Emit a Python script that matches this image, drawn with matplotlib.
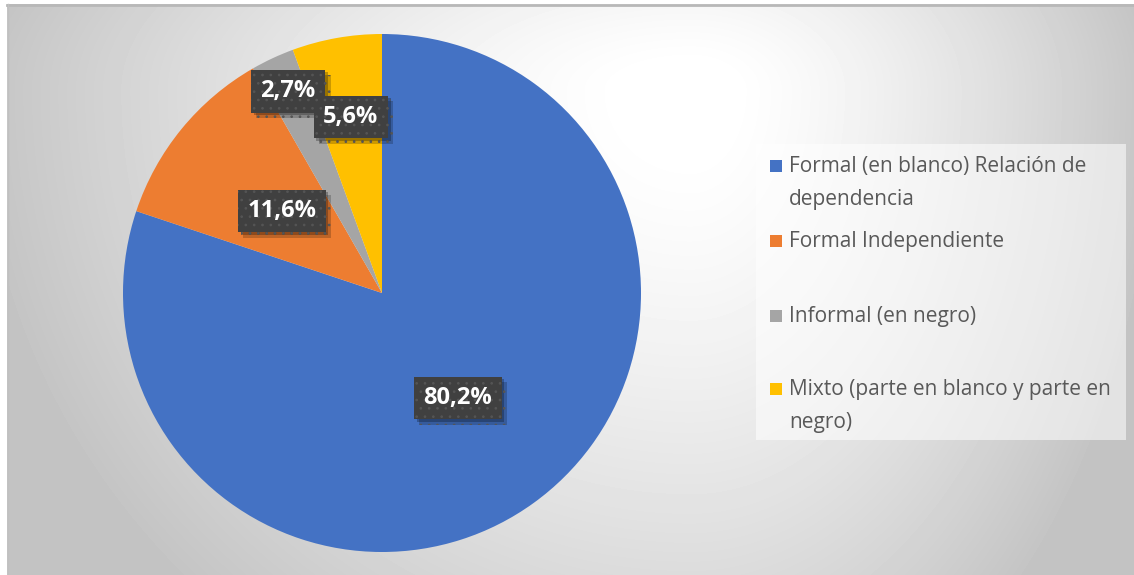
import matplotlib.pyplot as plt
import matplotlib.patheffects as pe
from matplotlib.patches import Rectangle
import numpy as np

# datos
categorias = ['Formal (en blanco) Relación de\ndependencia',
              'Formal Independiente',
              'Informal (en negro)',
              'Mixto (parte en blanco y parte en\nnegro)']
porcentajes = [80.2, 11.6, 2.7, 5.6]
etiquetas = ['80,2%', '11,6%', '2,7%', '5,6%']
colores = ['#4472C4', '#ED7D31', '#A5A5A5', '#FFC000']

W, H = 1134, 575
fig = plt.figure(figsize=(W / 100, H / 100), dpi=100)
fig.patch.set_facecolor('white')

# ---- fondo con degradado radial ----
bg = fig.add_axes([0, 0, 1, 1])
bg.set_xlim(0, W)
bg.set_ylim(H, 0)
bg.axis('off')
xx, yy = np.meshgrid(np.arange(7, W), np.arange(4, H))
cx, cy = 690, 90
ax_w = np.where(xx < cx, 720, 470)
ay_w = np.where(yy < cy, 300, 700)
d = np.sqrt(((xx - cx) / ax_w) ** 2 + ((yy - cy) / ay_w) ** 2)
d = np.clip((d - 0.08) / 0.92, 0, 1)
gris = 1.0 - (1.0 - 0.765) * d ** 1.3
bg.imshow(gris, cmap='gray', vmin=0, vmax=1, extent=(7, W, H, 4),
          aspect='auto', interpolation='bilinear')
bg.plot([7, W], [4.5, 4.5], color='#b8b8b8', lw=2)
bg.plot([7.5, 7.5], [4, H], color='#c0c0c0', lw=1)

# ---- pastel ----
pcx, pcy, r = 382, 293, 259
ax = fig.add_axes([(pcx - r) / W, (H - pcy - r) / H, 2 * r / W, 2 * r / H])
wedges, _ = ax.pie(porcentajes, colors=colores, startangle=90, counterclock=False,
                   radius=1, wedgeprops=dict(linewidth=0))
ax.set_xlim(-1, 1)
ax.set_ylim(-1, 1)
ax.axis('off')

plt.rcParams['hatch.linewidth'] = 0.7
dist = [0.50, 0.50, 0.86, 0.69]
for w, lab, k in zip(wedges, etiquetas, dist):
    ang = np.deg2rad((w.theta1 + w.theta2) / 2)
    x, y = k * np.cos(ang), k * np.sin(ang)
    t = ax.text(x, y, lab, ha='center', va='center', fontsize=17, fontweight='bold',
                family='Open Sans', color='white',
                bbox=dict(boxstyle='square,pad=0.4', fc='#404040', ec='#555555',
                          lw=0, hatch='..'))
    t.get_bbox_patch().set_path_effects([
        pe.SimplePatchShadow(offset=(4, -4), shadow_rgbFace='black', alpha=0.2),
        pe.SimplePatchShadow(offset=(2, -2), shadow_rgbFace='black', alpha=0.25),
        pe.Normal()])

# ---- leyenda ----
bg.add_patch(Rectangle((756, 144), 370, 296, fc='white', ec='none', alpha=0.55))
ys = [166, 241, 316, 389]
for cat, col, y in zip(categorias, colores, ys):
    bg.add_patch(Rectangle((770, y - 6), 12, 12, fc=col, ec='none'))
    bg.text(789, y - 10, cat, ha='left', va='top', fontsize=15, family='Open Sans',
            color='#595959', linespacing=1.75)

fig.savefig('out.png', dpi=100)
